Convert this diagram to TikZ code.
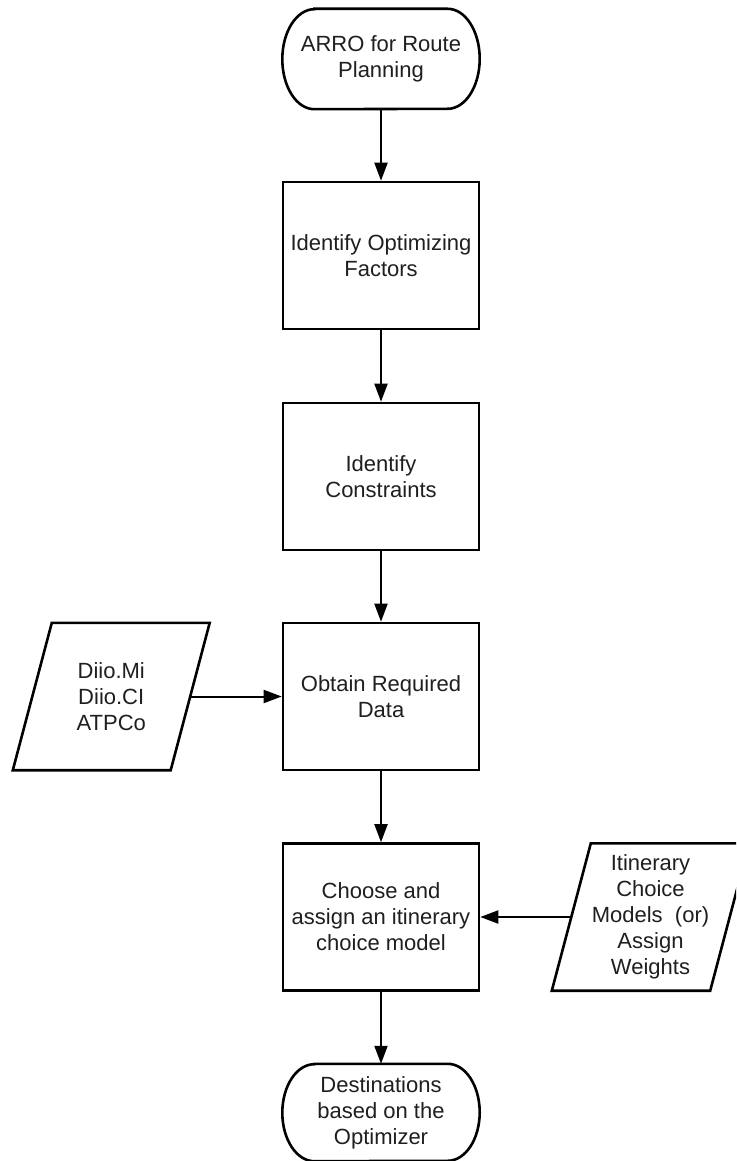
\documentclass[tikz,border=0pt]{standalone}
\usepackage{fontspec}
\setmainfont{Liberation Sans}
\usetikzlibrary{arrows.meta}
\begin{document}
\begin{tikzpicture}[x=1pt,y=-1pt,
  txt/.style={font=\fontsize{22}{26}\selectfont, align=center, inner sep=0pt, text=black!88},
  proc/.style={txt, draw, line width=2.6pt, minimum width=196pt, minimum height=147pt},
  termin/.style={txt, minimum width=197pt},
  ioshape/.style={txt, minimum height=147pt},
  flow/.style={line width=2pt, -{Triangle[length=18pt,width=13pt]}},
  outline/.style={line width=2.6pt, line join=miter}]
\clip (0,0) rectangle (736,1161);
\path[fill=white] (0,0) rectangle (736,1161);

\node[termin, minimum height=100pt] (start) at (381,59) {ARRO for Route\\Planning};
\node[proc] (b1) at (381,255.5) {Identify Optimizing\\Factors};
\node[proc] (b2) at (381,476.5) {Identify\\Constraints};
\node[proc] (b3) at (381,696.5) {Obtain Required\\Data};
\node[proc] (b4) at (381,917) {Choose and\\assign an itinerary\\choice model};
\node[termin, minimum height=97pt] (end) at (381,1112.5) {Destinations\\based on the\\Optimizer};
\node[ioshape, minimum width=157.5pt] (in1) at (111.25,696.5) {Diio.Mi\\Diio.CI\\ATPCo};
\node[ioshape, minimum width=158pt] (in2) at (650.5,917) {Itinerary\\Choice\\Models\ \ (or)\\Assign\\Weights};

% terminator outlines
\draw[outline] ([xshift=32pt]start.north west) -- ([xshift=-32pt]start.north east)
  arc[start angle=90,end angle=-90,x radius=32pt,y radius=50pt]
  -- ([xshift=32pt]start.south west)
  arc[start angle=270,end angle=90,x radius=32pt,y radius=50pt] -- cycle;
\draw[outline] ([xshift=32pt]end.north west) -- ([xshift=-32pt]end.north east)
  arc[start angle=90,end angle=-90,x radius=32pt,y radius=48.5pt]
  -- ([xshift=32pt]end.south west)
  arc[start angle=270,end angle=90,x radius=32pt,y radius=48.5pt] -- cycle;

% data (parallelogram) outlines
\draw[outline] ([xshift=19.5pt]in1.north west) -- ([xshift=19.5pt]in1.north east)
  -- ([xshift=-19.5pt]in1.south east) -- ([xshift=-19.5pt]in1.south west) -- cycle;
\draw[outline] ([xshift=19.5pt]in2.north west) -- ([xshift=19.5pt]in2.north east)
  -- ([xshift=-19.5pt]in2.south east) -- ([xshift=-19.5pt]in2.south west) -- cycle;

% connectors
\draw[flow] (start.south) -- (b1.north);
\draw[flow] (b1.south) -- (b2.north);
\draw[flow] (b2.south) -- (b3.north);
\draw[flow] (b3.south) -- (b4.north);
\draw[flow] (b4.south) -- (end.north);
\draw[flow] (in1.east) -- (b3.west);
\draw[flow] (in2.west) -- (b4.east);
\end{tikzpicture}
\end{document}
